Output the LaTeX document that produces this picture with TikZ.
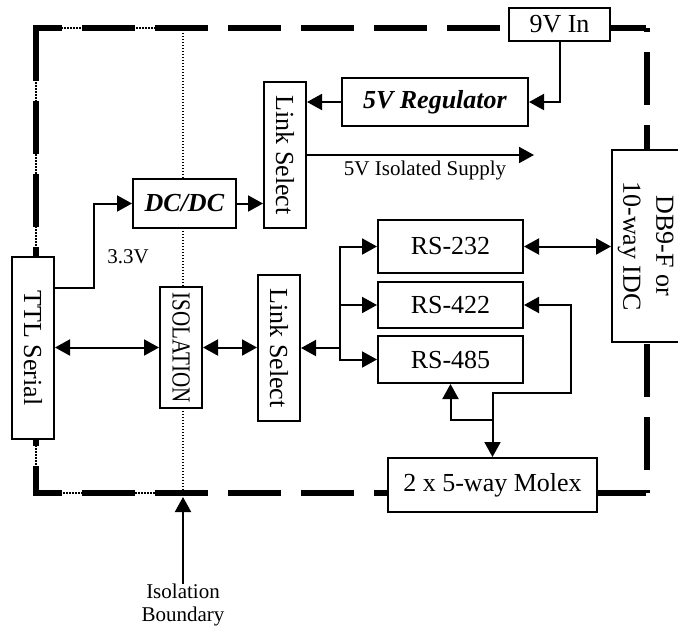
\documentclass[tikz,border=0pt]{standalone}
\usepackage{fontspec,graphicx}
\setmainfont{Liberation Serif}
\usetikzlibrary{arrows.meta,positioning,calc}
\tikzset{blk/.style={draw,line width=2pt,fill=white,inner sep=0pt,align=center,font=\fontsize{26}{33}\selectfont},
lbl/.style={inner sep=0pt,align=center,font=\fontsize{21}{23}\selectfont},
arr/.style={-{Triangle[length=15pt,width=16pt]},line width=2pt},
dbl/.style={{Triangle[length=15pt,width=16pt]}-{Triangle[length=15pt,width=16pt]},line width=2pt},
edge/.style={line width=6pt,dash pattern=on 53pt off 20pt},
dotline/.style={line width=1.5pt,dash pattern=on 1.5pt off 1.5pt}}
\begin{document}
\begin{tikzpicture}[x=1pt,y=-1pt]
\useasboundingbox (0,0) rectangle (678,630);
% isolated side and board outline
\draw[dotline] (36,28) rectangle (183,493);
\draw[edge] (36,28) -- (36,493);
\draw[edge,dash phase=24pt] (33,28) -- (650,28);
\draw[edge,dash phase=24pt] (33,493) -- (650,493);
\draw[edge,dash phase=49pt] (647,28) -- (647,493);
% blocks
\node[blk,minimum width=42,minimum height=182] (ttl) at (33,348) {\rotatebox{-90}{TTL Serial}};
\node[blk,minimum width=42,minimum height=121] (iso) at (181,347.5) {\rotatebox{-90}{\scalebox{0.81}[1]{ISOLATION}}};
\node[blk,minimum width=103,minimum height=49] (dcdc) at (184.5,203.5) {\textbf{\textit{DC/DC}}};
\node[blk,minimum width=42,minimum height=146] (lsA) at (285,155) {\rotatebox{-90}{Link Select}};
\node[blk,minimum width=42,minimum height=146] (lsB) at (279,348) {\rotatebox{-90}{Link Select}};
\node[blk,minimum width=186,minimum height=48] (reg) at (435,102) {\textbf{\textit{5V Regulator}}};
\node[blk,minimum width=101,minimum height=33] (vin) at (559.5,24.5) {9V In};
\node[blk,minimum width=145,minimum height=53] (rs232) at (450.5,246.5) {RS-232};
\node[blk,minimum width=145,minimum height=46] (rs422) at (450.5,305) {RS-422};
\node[blk,minimum width=145,minimum height=47] (rs485) at (450.5,359.5) {RS-485};
\node[blk,minimum width=209,minimum height=54] (molex) at (492.5,485) {2 x 5-way Molex};
\node[blk,minimum width=69,minimum height=192] (db9) at (646.5,246) {\rotatebox{-90}{\begin{tabular}{@{}c@{}}DB9-F or\\10-way IDC\end{tabular}}};
\node[lbl] (v33) at (128,257) {3.3V};
\node[lbl] (isob) at (183,605) {Isolation\\Boundary};
% links
\draw[arr] ([yshift=60pt]ttl.east) -- ++(39,0) |- (dcdc.west);
\draw[arr] (dcdc.east) -- (dcdc.east -| lsA.west);
\draw[arr] (reg.west) -- (reg.west -| lsA.east);
\draw[arr] (vin.south) |- (reg.east);
\draw[arr] (lsA.east) -- ++(227,0) node[lbl,pos=.52,below=5pt] (supply) {5V Isolated Supply};
\draw[dbl] (ttl.east |- iso.west) -- (iso.west);
\draw[dbl] (iso.east) -- (iso.east -| lsB.west);
\coordinate (bus) at ([xshift=39pt]lsB.east);
\draw[arr] (bus) -- (lsB.east);
\draw[arr] (bus) |- (rs232.west); \draw[arr] (bus) |- (rs422.west); \draw[arr] (bus) |- (rs485.west);
\draw[dbl] (rs232.east) -- (rs232.east -| db9.west);
\draw[dbl] (rs422.east) -- ++(47,0) -- ++(0,88) -| (molex.north);
\coordinate (jn) at ([yshift=37pt]molex.north);
\draw[arr] (jn) -| (rs485.south);
\coordinate (bnd) at (183,497);
\draw[arr] (isob.north) -- (bnd);
\end{tikzpicture}
\end{document}
